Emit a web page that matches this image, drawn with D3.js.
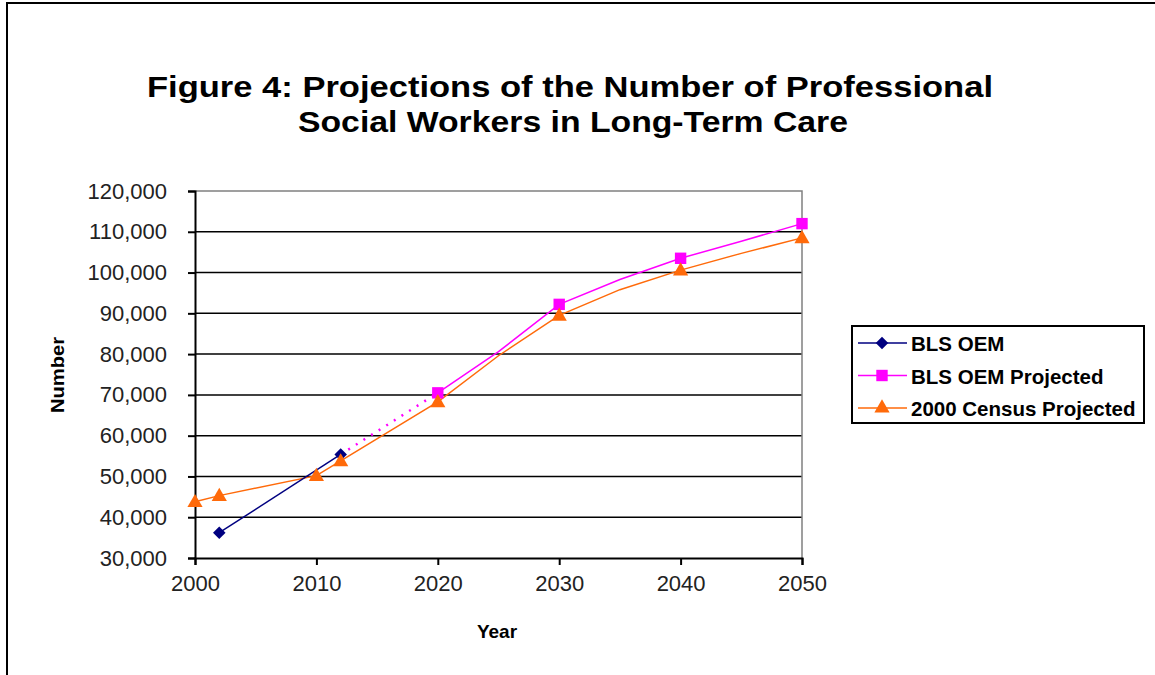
<!DOCTYPE html>
<html>
<head>
<meta charset="utf-8">
<script src="https://cdn.jsdelivr.net/npm/d3@7"></script>
<style>
  body { margin: 0; background: #fff; }
  svg { display: block; }
</style>
</head>
<body>
<div id="chart"></div>
<script>
// values
const yTicks = [30000, 40000, 50000, 60000, 70000, 80000, 90000, 100000, 110000, 120000];
const xTicks = [2000, 2010, 2020, 2030, 2040, 2050];

const oemYears = [2002, 2012];
const oemValues = [36200, 55400];

const projYears = [2020, 2025, 2030, 2035, 2040, 2045, 2050];
const projValues = [70500, 80600, 92200, 98300, 103500, 107700, 112000];
const projMarkYears = [2020, 2030, 2040, 2050];

const censusYears = [2000, 2002, 2010, 2012, 2020, 2025, 2030, 2035, 2040, 2045, 2050];
const censusValues = [43800, 45300, 50200, 53800, 68300, 79600, 89500, 95800, 100600, 104700, 108500];
const censusMarkYears = [2000, 2002, 2010, 2012, 2020, 2030, 2040, 2050];

const legendLabels = ["BLS OEM", "BLS OEM Projected", "2000 Census Projected"];
const colors = ["#000080", "#ff00ff", "#ff6a0a"];

const W = 1155, H = 675;
const svg = d3.select("#chart").append("svg")
    .attr("width", W)
    .attr("height", H);

svg.append("rect").attr("width", W).attr("height", H).attr("fill", "#fff");

// outer chart border (only left and top are visible in the picture)
svg.append("path")
    .attr("d", "M7,675 L7,3 L1155,3")
    .attr("fill", "none")
    .attr("stroke", "#000")
    .attr("stroke-width", 2);

// title
const title = svg.append("g")
    .attr("font-family", "'Liberation Sans', Arial, sans-serif")
    .attr("font-weight", "bold")
    .attr("font-size", 30)
    .attr("text-anchor", "middle");
title.append("text").attr("x", 570).attr("y", 97)
    .attr("textLength", 846).attr("lengthAdjust", "spacingAndGlyphs")
    .text("Figure 4: Projections of the Number of Professional");
title.append("text").attr("x", 573).attr("y", 132)
    .attr("textLength", 550).attr("lengthAdjust", "spacingAndGlyphs")
    .text("Social Workers in Long-Term Care");

const x = d3.scaleLinear().domain([2000, 2050]).range([195, 802]);
const y = d3.scaleLinear().domain([30000, 120000]).range([558, 191]);

// gridlines
svg.append("g").selectAll("line")
    .data(yTicks.slice(1, -1))
    .enter().append("line")
    .attr("x1", x(2000)).attr("x2", x(2050))
    .attr("y1", d => y(d)).attr("y2", d => y(d))
    .attr("stroke", "#000").attr("stroke-width", 1.5);

// plot area frame (top, right in grey)
svg.append("path")
    .attr("d", `M${x(2000)},${y(120000)} L${x(2050)},${y(120000)} L${x(2050)},${y(30000)}`)
    .attr("fill", "none").attr("stroke", "#808080").attr("stroke-width", 1.5);

const fmt = d3.format(",");

const yAxis = svg.append("g")
    .attr("transform", `translate(${x(2000)},0)`)
    .call(d3.axisLeft(y).tickValues(yTicks).tickSize(7).tickPadding(21).tickFormat(fmt));
const xAxis = svg.append("g")
    .attr("transform", `translate(0,${y(30000)})`)
    .call(d3.axisBottom(x).tickValues(xTicks).tickSize(7).tickPadding(10).tickFormat(d3.format("d")));

[yAxis, xAxis].forEach(a => {
    a.select(".domain").attr("stroke", "#000").attr("stroke-width", 2);
    a.selectAll(".tick line").attr("stroke", "#000").attr("stroke-width", 2);
    a.selectAll(".tick text")
        .attr("font-family", "'Liberation Sans', Arial, sans-serif")
        .attr("font-size", 22)
        .attr("fill", "#222");
});

// axis titles
svg.append("text")
    .attr("x", 497).attr("y", 638)
    .attr("text-anchor", "middle")
    .attr("font-family", "'Liberation Sans', Arial, sans-serif")
    .attr("font-weight", "bold").attr("font-size", 19)
    .text("Year");
svg.append("text")
    .attr("transform", "translate(64,375) rotate(-90)")
    .attr("text-anchor", "middle")
    .attr("font-family", "'Liberation Sans', Arial, sans-serif")
    .attr("font-weight", "bold").attr("font-size", 18)
    .attr("textLength", 76).attr("lengthAdjust", "spacingAndGlyphs")
    .text("Number");

const line = d3.line().x(d => x(d[0])).y(d => y(d[1]));
const zip = (a, b) => a.map((v, i) => [v, b[i]]);

const oem = zip(oemYears, oemValues);
const proj = zip(projYears, projValues);
const census = zip(censusYears, censusValues);

// series lines
svg.append("path").datum(census).attr("d", line)
    .attr("fill", "none").attr("stroke", colors[2]).attr("stroke-width", 1.5);
svg.append("path").datum([oem[oem.length - 1], proj[0]]).attr("d", line)
    .attr("fill", "none").attr("stroke", colors[1]).attr("stroke-width", 2.5)
    .attr("stroke-dasharray", "2,7");
svg.append("path").datum(proj).attr("d", line)
    .attr("fill", "none").attr("stroke", colors[1]).attr("stroke-width", 1.5);
svg.append("path").datum(oem).attr("d", line)
    .attr("fill", "none").attr("stroke", colors[0]).attr("stroke-width", 1.5);

// markers
const symDiamond = d3.symbol().type(d3.symbolDiamond2).size(100);
const symSquare = d3.symbol().type(d3.symbolSquare).size(130);
const symTriangle = d3.symbol().type(d3.symbolTriangle).size(100);

svg.append("g").selectAll("path")
    .data(oem).enter().append("path")
    .attr("transform", d => `translate(${x(d[0])},${y(d[1])})`)
    .attr("d", symDiamond).attr("fill", colors[0]);
svg.append("g").selectAll("path")
    .data(proj.filter(d => projMarkYears.includes(d[0]))).enter().append("path")
    .attr("transform", d => `translate(${x(d[0])},${y(d[1])})`)
    .attr("d", symSquare).attr("fill", colors[1]);
svg.append("g").selectAll("path")
    .data(census.filter(d => censusMarkYears.includes(d[0]))).enter().append("path")
    .attr("transform", d => `translate(${x(d[0])},${y(d[1]) + 1})`)
    .attr("d", symTriangle).attr("fill", colors[2]);

// legend
const legend = svg.append("g");
legend.append("rect")
    .attr("x", 852).attr("y", 326).attr("width", 292).attr("height", 97)
    .attr("fill", "#fff").attr("stroke", "#000").attr("stroke-width", 2);
const syms = [symDiamond, symSquare, symTriangle];
const rows = legend.selectAll("g.row")
    .data(legendLabels).enter().append("g")
    .attr("class", "row")
    .attr("transform", (d, i) => `translate(0,${343 + i * 32.5})`);
rows.append("line")
    .attr("x1", 858).attr("x2", 907).attr("y1", 0).attr("y2", 0)
    .attr("stroke", (d, i) => colors[i]).attr("stroke-width", 1.5);
rows.append("path")
    .attr("transform", "translate(882,0)")
    .attr("d", (d, i) => syms[i]())
    .attr("fill", (d, i) => colors[i]);
rows.append("text")
    .attr("x", 911).attr("y", 8)
    .attr("font-family", "'Liberation Sans', Arial, sans-serif")
    .attr("font-weight", "bold").attr("font-size", 20.5)
    .text(d => d);
</script>
</body>
</html>
